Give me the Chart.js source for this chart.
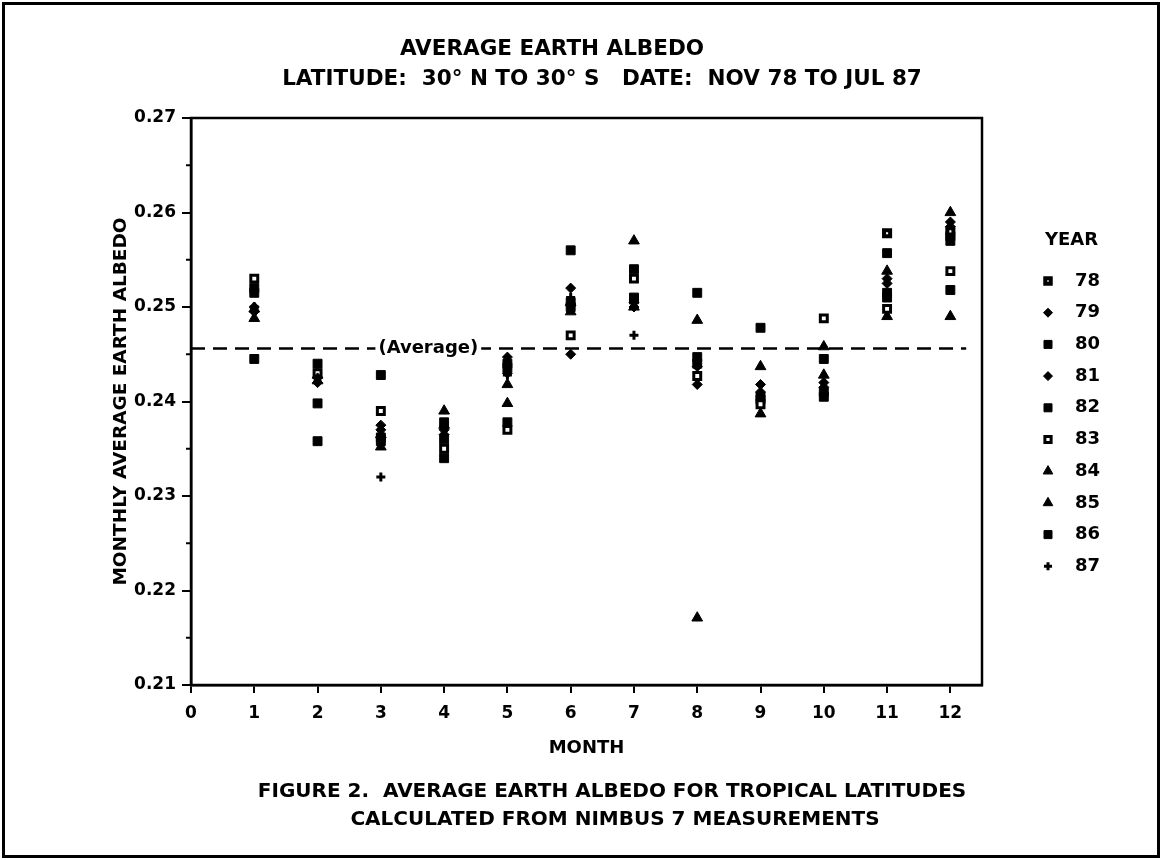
<!DOCTYPE html>
<html>
<head>
<meta charset="utf-8">
<script src="https://cdn.jsdelivr.net/npm/chart.js@4/dist/chart.umd.min.js"></script>
<style>
html,body{margin:0;padding:0;background:#fff;}
#wrap{width:1162px;height:860px;position:relative;}
canvas{display:block;}
</style>
</head>
<body>
<div id="wrap"><canvas id="c" width="1162" height="860" style="width:1162px;height:860px"></canvas></div>
<script>
// ---------- DATA ----------
const MONTHS = [1,2,3,4,5,6,7,8,9,10,11,12];
const X_TICKS = [0,1,2,3,4,5,6,7,8,9,10,11,12];
const Y_TICKS = [0.21,0.22,0.23,0.24,0.25,0.26,0.27];
const YEARS = ['78','79','80','81','82','83','84','85','86','87'];
const Y78 = [null,null,null,null,null,null,null,null,null,null,0.2578,0.2580];
const Y79 = [0.2495,0.2425,0.2375,0.2370,0.2447,0.2520,0.2500,0.2437,0.2418,0.2420,0.2530,0.2590];
const Y80 = [0.2515,0.2398,0.2362,0.2340,0.2378,0.2560,0.2540,0.2515,0.2478,0.2410,0.2557,0.2570];
const Y81 = [0.2500,0.2420,0.2370,0.2365,0.2430,0.2450,0.2505,0.2418,0.2410,0.2415,0.2525,0.2585];
const Y82 = [0.2520,0.2440,0.2428,0.2378,0.2436,0.2500,0.2510,0.2447,0.2405,0.2445,0.2515,0.2575];
const Y83 = [0.2530,0.2430,0.2390,0.2350,0.2370,0.2470,0.2530,0.2427,0.2397,0.2488,0.2498,0.2538];
const Y84 = [0.2498,0.2422,0.2352,0.2390,0.2418,0.2505,0.2570,0.2486,0.2437,0.2458,0.2538,0.2600];
const Y85 = [0.2488,0.2428,0.2365,0.2375,0.2398,0.2495,0.2500,0.2171,0.2387,0.2428,0.2490,0.2490];
const Y86 = [0.2445,0.2358,0.2358,0.2360,0.2440,0.2505,0.2508,0.2440,0.2402,0.2405,0.2510,0.2518];
const Y87 = [0.2500,0.2430,0.2320,0.2372,0.2428,0.2510,0.2470,null,null,null,null,null];
const SERIES = [Y78,Y79,Y80,Y81,Y82,Y83,Y84,Y85,Y86,Y87];
const AVERAGE = 0.2456;
const AVERAGE_SPAN = [0, 12.25];

// ---------- STYLES ----------
const FONT = '"DejaVu Sans", "Liberation Sans", Arial, sans-serif';
const MARK = {
  '78': {pointStyle:'rect', radius:4.3, borderWidth:4, fill:'#fff'},
  '79': {pointStyle:'rectRot', radius:5, borderWidth:1, fill:'#000'},
  '80': {pointStyle:'rect', radius:6.3, borderWidth:1, fill:'#000'},
  '81': {pointStyle:'rectRot', radius:5, borderWidth:1, fill:'#000'},
  '82': {pointStyle:'rect', radius:6.3, borderWidth:1, fill:'#000'},
  '83': {pointStyle:'rect', radius:4.9, borderWidth:3, fill:'#fff'},
  '84': {pointStyle:'triangle', radius:6.2, borderWidth:1, fill:'#000'},
  '85': {pointStyle:'triangle', radius:6.2, borderWidth:1, fill:'#000'},
  '86': {pointStyle:'rect', radius:6.3, borderWidth:1, fill:'#000'},
  '87': {pointStyle:'cross', radius:4.5, borderWidth:3, fill:'#000'}
};

const datasets = YEARS.map((yr, i) => ({
  type: 'scatter',
  label: yr,
  data: MONTHS.map((m, j) => ({x: m, y: SERIES[i][j]})).filter(p => p.y !== null),
  pointStyle: MARK[yr].pointStyle,
  pointRadius: MARK[yr].radius,
  pointHoverRadius: MARK[yr].radius,
  pointBorderWidth: MARK[yr].borderWidth,
  pointBackgroundColor: MARK[yr].fill,
  pointBorderColor: '#000',
  showLine: false
}));
datasets.unshift({
  type: 'line',
  label: 'Average',
  data: AVERAGE_SPAN.map(x => ({x: x, y: AVERAGE})),
  borderColor: '#000',
  borderWidth: 2.5,
  borderDash: [14, 8],
  pointRadius: 0,
  fill: false
});

const decor = {
  id: 'decor',
  afterDraw(chart) {
    const ctx = chart.ctx, a = chart.chartArea;
    const xs = chart.scales.x, ys = chart.scales.y;
    ctx.save();
    ctx.strokeStyle = '#000';
    ctx.lineWidth = 3;
    ctx.strokeRect(3.5, 3.5, 1155, 853);
    ctx.lineWidth = 2.5;
    ctx.strokeRect(a.left, a.top, a.right - a.left, a.bottom - a.top);
    ctx.lineWidth = 2;
    for (let i = 0; i < Y_TICKS.length - 1; i++) {
      const v = (Y_TICKS[i] + Y_TICKS[i+1]) / 2;
      const y = ys.getPixelForValue(v);
      ctx.beginPath(); ctx.moveTo(a.left - 5, y); ctx.lineTo(a.left, y); ctx.stroke();
    }
    ctx.font = 'bold 18px ' + FONT;
    ctx.textBaseline = 'middle';
    ctx.textAlign = 'center';
    const lx = xs.getPixelForValue(3.75), ly = ys.getPixelForValue(AVERAGE);
    const tw = ctx.measureText('(Average)').width;
    ctx.fillStyle = '#fff';
    ctx.fillRect(lx - tw/2 - 3, ly - 10, tw + 6, 20);
    ctx.fillStyle = '#000';
    ctx.fillText('(Average)', lx, ly);
    ctx.font = 'bold 21.5px ' + FONT;
    ctx.fillText('AVERAGE EARTH ALBEDO', 552, 49);
    ctx.fillText('LATITUDE:  30\u00B0 N TO 30\u00B0 S   DATE:  NOV 78 TO JUL 87', 602, 79);
    ctx.font = 'bold 20px ' + FONT;
    ctx.fillText('FIGURE 2.  AVERAGE EARTH ALBEDO FOR TROPICAL LATITUDES', 612, 792);
    ctx.fillText('CALCULATED FROM NIMBUS 7 MEASUREMENTS', 615, 820);
    ctx.font = 'bold 18px ' + FONT;
    ctx.fillText('MONTH', (a.left + a.right) / 2, 748);
    ctx.save();
    ctx.translate(121, (a.top + a.bottom) / 2);
    ctx.rotate(-Math.PI / 2);
    ctx.font = 'bold 18.5px ' + FONT;
    ctx.fillText('MONTHLY AVERAGE EARTH ALBEDO', 0, 0);
    ctx.restore();
    ctx.textAlign = 'left';
    ctx.fillText('YEAR', 1045, 240);
    YEARS.forEach((yr, i) => {
      const y = 281 + i * 31.7;
      const m = MARK[yr];
      ctx.fillStyle = m.fill;
      ctx.strokeStyle = '#000';
      ctx.lineWidth = m.borderWidth;
      Chart.helpers.drawPoint(ctx, {pointStyle: m.pointStyle, radius: m.radius * 0.9, borderWidth: m.borderWidth, rotation: 0}, 1048, y);
      ctx.fillStyle = '#000';
      ctx.fillText(yr, 1075, y);
    });
    ctx.restore();
  }
};

new Chart(document.getElementById('c'), {
  data: {datasets: datasets},
  options: {
    responsive: false,
    animation: false,
    devicePixelRatio: 1,
    layout: {padding: {left: 131, right: 180, top: 118, bottom: 115}},
    plugins: {legend: {display: false}, tooltip: {enabled: false}, title: {display: false}},
    scales: {
      x: {
        type: 'linear', min: 0, max: 12.5,
        afterFit: s => { s.height = 60; },
        afterBuildTicks: s => { s.ticks = X_TICKS.map(v => ({value: v})); },
        ticks: {color: '#000', font: {family: FONT, size: 17, weight: 'bold'}, padding: 10, maxRotation: 0, callback: v => String(v)},
        grid: {display: true, drawOnChartArea: false, drawTicks: true, tickLength: 8, color: '#000', lineWidth: 2},
        border: {display: true, color: '#000', width: 2.5}
      },
      y: {
        type: 'linear', min: 0.21, max: 0.27,
        afterFit: s => { s.width = 60; },
        afterBuildTicks: s => { s.ticks = Y_TICKS.map(v => ({value: v})); },
        ticks: {color: '#000', font: {family: FONT, size: 17, weight: 'bold'}, padding: 6, callback: v => v.toFixed(2)},
        grid: {display: true, drawOnChartArea: false, drawTicks: true, tickLength: 9, color: '#000', lineWidth: 2},
        border: {display: true, color: '#000', width: 2.5}
      }
    }
  },
  plugins: [decor]
});
</script>
</body>
</html>
